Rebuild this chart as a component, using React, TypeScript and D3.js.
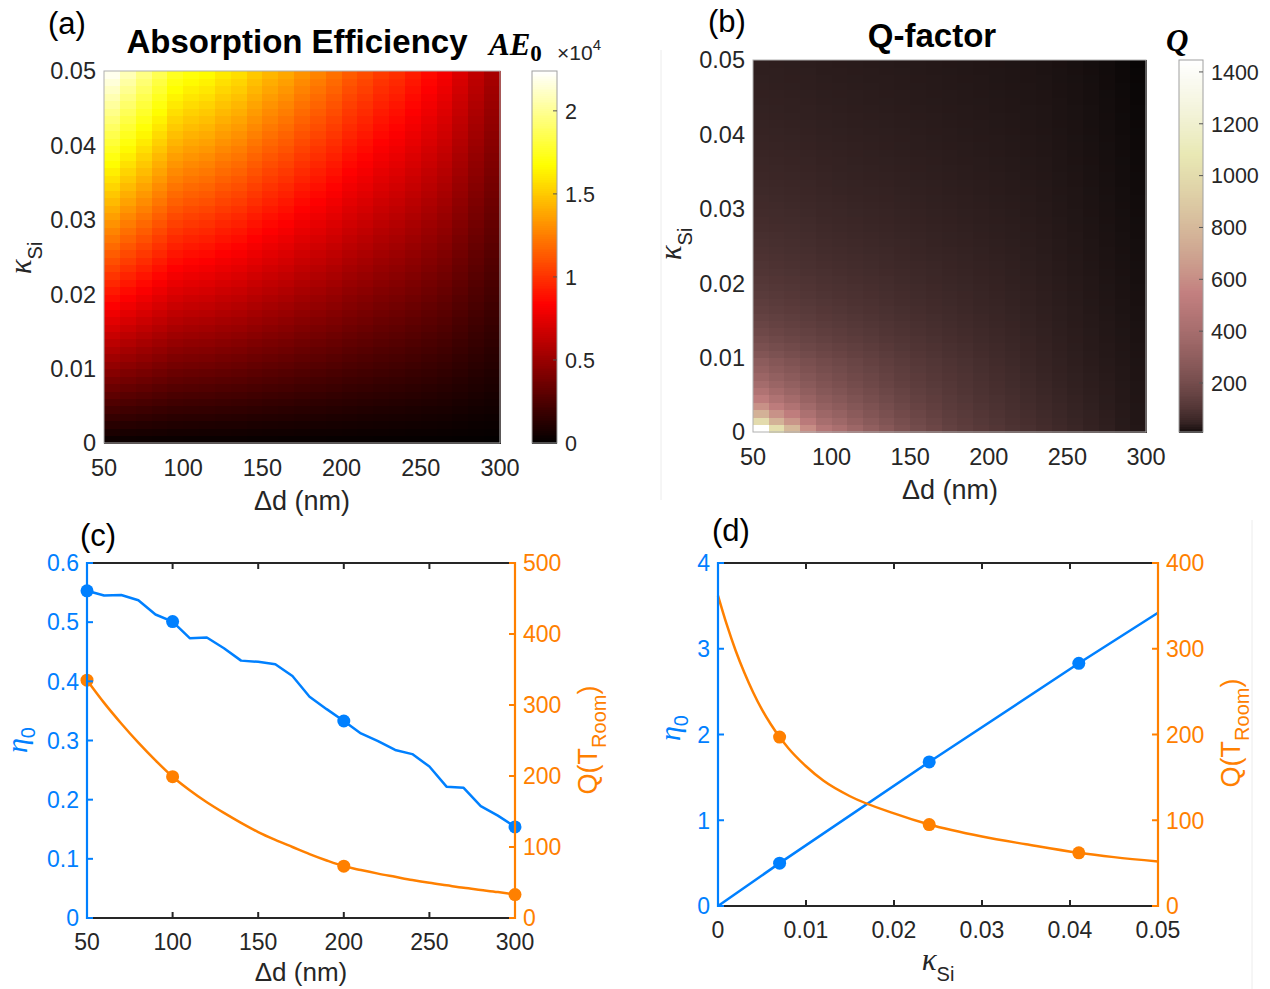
import React from 'react';
import * as d3 from 'd3';

const W = 1270, H = 989;
const FONT = "'Liberation Sans', Arial, Helvetica, sans-serif";
const SERIF = "'Liberation Serif', 'Times New Roman', serif";
const TICK = '#262626';
const BLUE = '#0080ff';
const ORANGE = '#ff8000';

// ---------- heatmap grids ----------
// Δd cell left edges (nm), 25 cells spanning 50..300
const deltaDCells = [50, 60, 70, 80, 90, 100, 110, 120, 130, 140, 150, 160, 170, 180, 190, 200, 210, 220, 230, 240, 250, 260, 270, 280, 290];
// κ_Si rows (upper edge of each cell), 0.001..0.05
const kappaRows = d3.range(1, 51).map((k) => k / 1000);

// (a) Absorption efficiency AE0 (×1e4) at κ = 0.05, per Δd column
const aeTop = [2.20, 2.08, 1.97, 1.86, 1.75, 1.70, 1.67, 1.61, 1.57, 1.50, 1.44, 1.39, 1.32, 1.27, 1.21, 1.14, 1.09, 1.03, 0.99, 0.93, 0.87, 0.81, 0.72, 0.63, 0.55];
const aeMax = 2.24;
const aeCbTicks = [0, 0.5, 1, 1.5, 2];

// (b) Q-factor read per Δd column at κ = 0.001 (bottom), κ = 0.01 and κ = 0.05 (top)
const qKappaRef = [0.001, 0.01, 0.05];
const qBottom = [1440, 1015, 800, 600, 470, 420, 360, 310, 270, 230, 200, 175, 150, 135, 120, 108, 96, 86, 76, 67, 58, 50, 42, 34, 28];
const qMid = [289, 262, 240, 219, 199, 183, 167, 153, 139, 126, 116, 106, 97, 89, 80, 73, 66, 59, 52, 46, 41, 36, 31.5, 27.5, 24];
const qTop = [42, 41, 40, 39, 37, 36, 35, 34, 33, 32, 31, 30, 29, 28, 27, 26, 25, 24, 23, 21, 19.5, 17.5, 15.5, 13.5, 12];
const qMin = 11, qMax = 1446;
const qCbTicks = [200, 400, 600, 800, 1000, 1200, 1400];

const heatXTicks = [50, 100, 150, 200, 250, 300];
const heatYTicks = [0, 0.01, 0.02, 0.03, 0.04, 0.05];

// ---------- (c) ----------
const ddC = [50, 60, 70, 80, 90, 100, 110, 120, 130, 140, 150, 160, 170, 180, 190, 200, 210, 220, 230, 240, 250, 260, 270, 280, 290, 300];
const etaC = [0.553, 0.545, 0.546, 0.537, 0.513, 0.501, 0.473, 0.474, 0.456, 0.435, 0.433, 0.429, 0.409, 0.374, 0.353, 0.333, 0.312, 0.299, 0.284, 0.277, 0.256, 0.222, 0.220, 0.189, 0.173, 0.154];
const qC = [335, 303, 274, 247, 222, 199, 180, 163, 148, 134, 121, 110, 100, 90, 81, 73, 67.5, 62.5, 58, 53.5, 49.5, 46, 42.5, 39.5, 36.5, 33];
const markC = [50, 100, 200, 300];
const cXTicks = [50, 100, 150, 200, 250, 300];
const cLTicks = [0, 0.1, 0.2, 0.3, 0.4, 0.5, 0.6];
const cRTicks = [0, 100, 200, 300, 400, 500];

// ---------- (d) ----------
const kD_eta = [0, 0.007, 0.024, 0.041, 0.05];
const etaD = [0, 0.5, 1.68, 2.83, 3.42];
const kD_q = [0, 0.001, 0.002, 0.003, 0.004, 0.005, 0.006, 0.007, 0.008, 0.01, 0.012, 0.015, 0.02, 0.024, 0.03, 0.035, 0.041, 0.045, 0.05];
const qD = [362, 328, 298, 272, 249, 229, 212, 197, 184, 163, 146, 128, 108, 95, 81, 72, 62, 57, 52];
const markD = [0.007, 0.024, 0.041];
const dXTicks = [0, 0.01, 0.02, 0.03, 0.04, 0.05];
const dLTicks = [0, 1, 2, 3, 4];
const dRTicks = [0, 100, 200, 300, 400];

// ---------- colormaps (MATLAB hot / pink) ----------
const clamp = (v: number) => Math.max(0, Math.min(1, v));
const hot = (f: number) => [clamp(f / 0.375), clamp((f - 0.375) / 0.375), clamp((f - 0.75) / 0.25)];
const pink = (f: number) => hot(f).map((c) => Math.sqrt((2 * f + c) / 3));
const rgb = (c: number[]) => d3.rgb(c[0] * 255, c[1] * 255, c[2] * 255).formatHex();

const fmt = (v: number) => String(+v.toFixed(3));

function Heatmap({ x0, x1, y0, y1, cellColor }: any) {
  const xs = d3.scaleLinear().domain([50, 300]).range([x0, x1]);
  const ys = d3.scaleLinear().domain([0, 0.05]).range([y1, y0]);
  const cells: any[] = [];
  deltaDCells.forEach((d, i) => {
    kappaRows.forEach((k, j) => {
      const xa = xs(d), xb = xs(d + 10);
      const ya = ys(k), yb = ys(k - 0.001);
      cells.push(
        <rect key={i + '-' + j} x={xa} y={ya} width={xb - xa + 0.6} height={yb - ya + 0.6} fill={cellColor(i, k)} />
      );
    });
  });
  return (
    <g>
      <g shapeRendering="crispEdges">{cells}</g>
      <rect x={x0} y={y0} width={x1 - x0} height={y1 - y0} fill="none" stroke="#b0b0b0" strokeWidth={1} />
      {heatXTicks.map((t) => (
        <text key={'x' + t} x={xs(t)} y={y1 + 33} textAnchor="middle" fontSize={23.5} fill={TICK}>{t}</text>
      ))}
      {heatYTicks.map((t) => (
        <text key={'y' + t} x={x0 - 8} y={ys(t)} dy="0.36em" textAnchor="end" fontSize={23.5} fill={TICK}>{fmt(t)}</text>
      ))}
    </g>
  );
}

function Colorbar({ x0, x1, y0, y1, domain, colorOf, ticks, labelOf }: any) {
  const s = d3.scaleLinear().domain(domain).range([y1, y0]);
  const n = 200;
  const steps = d3.range(n).map((k) => {
    const va = domain[0] + (domain[1] - domain[0]) * k / n;
    const vb = domain[0] + (domain[1] - domain[0]) * (k + 1) / n;
    return { va, vb, vm: (va + vb) / 2 };
  });
  return (
    <g>
      <g shapeRendering="crispEdges">
        {steps.map((st, k) => (
          <rect key={k} x={x0} y={s(st.vb)} width={x1 - x0} height={s(st.va) - s(st.vb) + 0.8} fill={colorOf(st.vm)} />
        ))}
      </g>
      <rect x={x0} y={y0} width={x1 - x0} height={y1 - y0} fill="none" stroke="#a0a0a0" strokeWidth={1} />
      {ticks.map((t: number) => (
        <g key={t}>
          <line x1={x1} x2={x1 - 4} y1={s(t)} y2={s(t)} stroke="#555" strokeWidth={1} />
          <text x={x1 + 8} y={s(t)} dy="0.36em" fontSize={21.5} fill={TICK}>{labelOf(t)}</text>
        </g>
      ))}
    </g>
  );
}

function DualAxis({ x0, x1, y0, y1, xDom, lDom, rDom, xTicks, lTicks, rTicks, xFmt, lFmt, rFmt, children }: any) {
  const xs = d3.scaleLinear().domain(xDom).range([x0, x1]);
  const yl = d3.scaleLinear().domain(lDom).range([y1, y0]);
  const yr = d3.scaleLinear().domain(rDom).range([y1, y0]);
  const tl = 6;
  return (
    <g>
      <line x1={x0} x2={x1} y1={y1} y2={y1} stroke="#262626" strokeWidth={2} />
      <line x1={x0} x2={x1} y1={y0} y2={y0} stroke="#262626" strokeWidth={2} />
      {xTicks.map((t: number) => (
        <g key={'xt' + t}>
          <line x1={xs(t)} x2={xs(t)} y1={y1} y2={y1 - tl} stroke="#262626" strokeWidth={2} />
          <line x1={xs(t)} x2={xs(t)} y1={y0} y2={y0 + tl} stroke="#262626" strokeWidth={2} />
          <text x={xs(t)} y={y1 + 32} textAnchor="middle" fontSize={23} fill={TICK}>{xFmt(t)}</text>
        </g>
      ))}
      {children({ xs, yl, yr })}
      <line x1={x0} x2={x0} y1={y0 - 1} y2={y1 + 1} stroke={BLUE} strokeWidth={2.2} />
      {lTicks.map((t: number) => (
        <g key={'lt' + t}>
          <line x1={x0} x2={x0 + tl} y1={yl(t)} y2={yl(t)} stroke={BLUE} strokeWidth={2} />
          <text x={x0 - 8} y={yl(t)} dy="0.36em" textAnchor="end" fontSize={23} fill={BLUE}>{lFmt(t)}</text>
        </g>
      ))}
      <line x1={x1} x2={x1} y1={y0 - 1} y2={y1 + 1} stroke={ORANGE} strokeWidth={2.2} />
      {rTicks.map((t: number) => (
        <g key={'rt' + t}>
          <line x1={x1} x2={x1 - tl} y1={yr(t)} y2={yr(t)} stroke={ORANGE} strokeWidth={2} />
          <text x={x1 + 8} y={yr(t)} dy="0.36em" textAnchor="start" fontSize={23} fill={ORANGE}>{rFmt(t)}</text>
        </g>
      ))}
    </g>
  );
}

function KappaSi({ transform, anchor = 'middle' }: any) {
  return (
    <text transform={transform} textAnchor={anchor} fontSize={31} fill={TICK}>
      <tspan fontFamily={SERIF} fontStyle="italic">κ</tspan>
      <tspan fontSize={20} dy={11}>Si</tspan>
    </text>
  );
}

function EtaLabel({ transform }: any) {
  return (
    <text transform={transform} textAnchor="middle" fontSize={30} fill={BLUE}>
      <tspan fontFamily={SERIF} fontStyle="italic">η</tspan>
      <tspan fontSize={20} dy={8}>0</tspan>
    </text>
  );
}

function QLabel({ transform }: any) {
  return (
    <text transform={transform} textAnchor="middle" fontSize={27} fill={ORANGE}>
      Q(T<tspan fontSize={20} dy={9}>Room</tspan><tspan dy={-9}>)</tspan>
    </text>
  );
}

export default function App() {
  const aeColor = (i: number, k: number) => rgb(hot(clamp((aeTop[i] * k / 0.05) / aeMax)));
  // (b): 1/Q taken piecewise-linear in κ between the three read rows of each column
  const qColor = (i: number, k: number) => {
    const pts = [qBottom[i], qMid[i], qTop[i]].map((q) => 1 / q);
    const seg = k <= qKappaRef[1] ? 0 : 1;
    const t = (k - qKappaRef[seg]) / (qKappaRef[seg + 1] - qKappaRef[seg]);
    const q = 1 / (pts[seg] + (pts[seg + 1] - pts[seg]) * t);
    return rgb(pink(clamp((q - qMin) / (qMax - qMin))));
  };

  const lineC = (ys: any, xs: any, vals: number[], curve: any) =>
    d3.line<number>().x((_, i) => xs(ddC[i])).y((v) => ys(v)).curve(curve)(vals) as string;

  return (
    <svg width={W} height={H} viewBox={`0 0 ${W} ${H}`} style={{ position: 'absolute', left: 0, top: 0, background: '#fff' }} fontFamily={FONT}>
      <rect x={0} y={0} width={W} height={H} fill="#fff" />
      <line x1={661} x2={661} y1={50} y2={500} stroke="#ececec" strokeWidth={1} />
      <line x1={1252} x2={1252} y1={520} y2={989} stroke="#ececec" strokeWidth={1} />

      {/* ================= (a) ================= */}
      <text x={48} y={34} fontSize={31} fill="#000">(a)</text>
      <text x={297} y={53} textAnchor="middle" fontSize={33} fontWeight="bold" fill="#000">Absorption Efficiency</text>
      <text x={489} y={55} fontFamily={SERIF} fontSize={31} fontWeight="bold" fontStyle="italic" fill="#000">
        AE<tspan fontStyle="normal" fontSize={23} dy={6}>0</tspan>
      </text>
      <text x={557} y={60} fontSize={21} fill={TICK}>
        ×10<tspan fontSize={15} dy={-10}>4</tspan>
      </text>
      <Heatmap x0={104} x1={500} y0={71} y1={443} cellColor={aeColor} />
      <Colorbar x0={532} x1={557} y0={71} y1={443} domain={[0, aeMax]} ticks={aeCbTicks}
        colorOf={(v: number) => rgb(hot(v / aeMax))} labelOf={(t: number) => fmt(t)} />
      <text x={302} y={510} textAnchor="middle" fontSize={27} fill={TICK}>Δd (nm)</text>
      <KappaSi transform="translate(31,258) rotate(-90)" />

      {/* ================= (b) ================= */}
      <text x={708} y={32} fontSize={31} fill="#000">(b)</text>
      <text x={932} y={47} textAnchor="middle" fontSize={33} fontWeight="bold" fill="#000">Q-factor</text>
      <text x={1166} y={51} fontFamily={SERIF} fontSize={31} fontWeight="bold" fontStyle="italic" fill="#000">Q</text>
      <Heatmap x0={753} x1={1146} y0={60} y1={432} cellColor={qColor} />
      <Colorbar x0={1179} x1={1203} y0={60} y1={432} domain={[qMin, qMax]} ticks={qCbTicks}
        colorOf={(v: number) => rgb(pink((v - qMin) / (qMax - qMin)))} labelOf={(t: number) => String(t)} />
      <text x={950} y={499} textAnchor="middle" fontSize={27} fill={TICK}>Δd (nm)</text>
      <KappaSi transform="translate(681,244) rotate(-90)" />

      {/* ================= (c) ================= */}
      <text x={80} y={546} fontSize={31} fill="#000">(c)</text>
      <DualAxis x0={87} x1={515} y0={563} y1={918} xDom={[50, 300]} lDom={[0, 0.6]} rDom={[0, 500]}
        xTicks={cXTicks} lTicks={cLTicks} rTicks={cRTicks}
        xFmt={(t: number) => String(t)} lFmt={fmt} rFmt={(t: number) => String(t)}>
        {({ xs, yl, yr }: any) => (
          <g>
            <path d={lineC(yl, xs, etaC, d3.curveLinear)} fill="none" stroke={BLUE} strokeWidth={2.5} strokeLinejoin="round" />
            <path d={lineC(yr, xs, qC, d3.curveMonotoneX)} fill="none" stroke={ORANGE} strokeWidth={2.5} />
            {markC.map((m) => {
              const i = ddC.indexOf(m);
              return (
                <g key={m}>
                  <circle cx={xs(m)} cy={yl(etaC[i])} r={6.5} fill={BLUE} />
                  <circle cx={xs(m)} cy={yr(qC[i])} r={6.5} fill={ORANGE} />
                </g>
              );
            })}
          </g>
        )}
      </DualAxis>
      <text x={301} y={981} textAnchor="middle" fontSize={26} fill={TICK}>Δd (nm)</text>
      <EtaLabel transform="translate(27,740) rotate(-90)" />
      <QLabel transform="translate(597,740) rotate(-90)" />

      {/* ================= (d) ================= */}
      <text x={712} y={541} fontSize={31} fill="#000">(d)</text>
      <DualAxis x0={718} x1={1158} y0={563} y1={906} xDom={[0, 0.05]} lDom={[0, 4]} rDom={[0, 400]}
        xTicks={dXTicks} lTicks={dLTicks} rTicks={dRTicks}
        xFmt={fmt} lFmt={(t: number) => String(t)} rFmt={(t: number) => String(t)}>
        {({ xs, yl, yr }: any) => (
          <g>
            <path d={d3.line<number>().x((_, i) => xs(kD_eta[i])).y((v) => yl(v))(etaD) as string}
              fill="none" stroke={BLUE} strokeWidth={2.5} />
            <path d={d3.line<number>().x((_, i) => xs(kD_q[i])).y((v) => yr(v)).curve(d3.curveMonotoneX)(qD) as string}
              fill="none" stroke={ORANGE} strokeWidth={2.5} />
            {markD.map((m) => (
              <g key={m}>
                <circle cx={xs(m)} cy={yl(etaD[kD_eta.indexOf(m)])} r={6.5} fill={BLUE} />
                <circle cx={xs(m)} cy={yr(qD[kD_q.indexOf(m)])} r={6.5} fill={ORANGE} />
              </g>
            ))}
          </g>
        )}
      </DualAxis>
      <KappaSi transform="translate(938,970)" />
      <EtaLabel transform="translate(680,728) rotate(-90)" />
      <QLabel transform="translate(1240,733) rotate(-90)" />
    </svg>
  );
}
